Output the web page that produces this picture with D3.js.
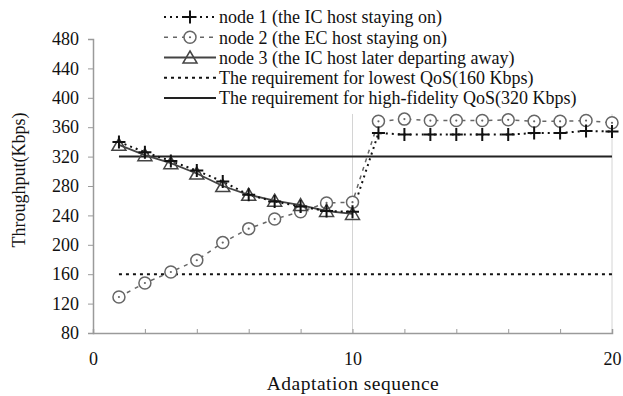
<!DOCTYPE html>
<html>
<head>
<meta charset="utf-8">
<script src="https://cdn.jsdelivr.net/npm/d3@7"></script>
<style>
  html, body { margin: 0; padding: 0; background: #fff; }
  svg { display: block; }
  text { font-family: "Liberation Serif", "Times New Roman", serif; fill: #111; }
</style>
</head>
<body>
<svg id="chart" width="623" height="396"></svg>
<script>
// ---- data ----
const seq = [1,2,3,4,5,6,7,8,9,10,11,12,13,14,15,16,17,18,19,20];
const node1 = [340,326,314,301,286,268,259,252,246,245,352,350,350,350,350,350,352,352,355,354];
const node2 = [129,148,163,179,203,222,235,245,257,258,368,371,369,369,369,370,368,368,369,366];
const node3Seq = [1,2,3,4,5,6,7,8,9,10];
const node3 = [336,322,311,297,280,268,260,254,246,242];
const lowQoS = 160;
const highQoS = 320;
const yTicks = [80,120,160,200,240,280,320,360,400,440,480];
const xLabelTicks = [0,10,20];
const xMinorTicks = [2,4,6,8,10,12,14,16,18,20];
const legendLabels = [
  "node 1 (the IC host staying on)",
  "node 2 (the EC host staying on)",
  "node 3 (the IC host later departing away)",
  "The requirement for lowest QoS(160 Kbps)",
  "The requirement for high-fidelity QoS(320 Kbps)"
];

// ---- layout ----
const svg = d3.select("#chart");
const x = d3.scaleLinear().domain([0,20]).range([93,612]);
const y = d3.scaleLinear().domain([80,480]).range([333,39]);
const axisColor = "#9a9a9a";

// light vertical guide lines at x=10 and x=20
svg.append("g").selectAll("line").data([10,20]).join("line")
  .attr("x1", d=>x(d)).attr("x2", d=>x(d))
  .attr("y1", y(378)).attr("y2", y(80))
  .attr("stroke", "#d4d4d4").attr("stroke-width", 1);

// y axis
const yAxis = svg.append("g").attr("transform", `translate(${x(0)},0)`)
  .call(d3.axisLeft(y).tickValues(yTicks).tickSize(5).tickPadding(9).tickFormat(d3.format("d")));
yAxis.select(".domain").attr("stroke", axisColor).attr("stroke-width", 1.5);
yAxis.selectAll(".tick line").attr("stroke", axisColor);
yAxis.selectAll(".tick text").attr("font-size", 18).attr("font-family", "Liberation Serif").attr("fill", "#111");

// x axis (minor ticks inward)
const xAxis = svg.append("g").attr("transform", `translate(0,${y(80)})`)
  .call(d3.axisBottom(x).tickValues(xMinorTicks).tickSize(-4).tickFormat(""));
xAxis.select(".domain").attr("stroke", axisColor).attr("stroke-width", 1.5);
xAxis.selectAll(".tick line").attr("stroke", axisColor);
const xLab = svg.append("g").attr("transform", `translate(0,${y(80)})`)
  .call(d3.axisBottom(x).tickValues(xLabelTicks).tickSize(0).tickPadding(19).tickFormat(d3.format("d")));
xLab.select(".domain").remove();
xLab.selectAll(".tick text").attr("font-size", 18).attr("font-family", "Liberation Serif").attr("fill", "#111");

// axis titles
svg.append("text").attr("x", 353).attr("y", 390).attr("text-anchor", "middle")
  .attr("font-size", 19.5).attr("letter-spacing", 0.5).text("Adaptation sequence");
svg.append("text").attr("transform", "translate(25,180) rotate(-90)").attr("text-anchor", "middle")
  .attr("font-size", 18).text("Throughput(Kbps)");

// requirement lines
svg.append("line").attr("x1", x(1)).attr("x2", x(20)).attr("y1", y(lowQoS)).attr("y2", y(lowQoS))
  .attr("stroke", "#111").attr("stroke-width", 2).attr("stroke-dasharray", "3,4");
svg.append("line").attr("x1", x(1)).attr("x2", x(20)).attr("y1", y(highQoS)).attr("y2", y(highQoS))
  .attr("stroke", "#222").attr("stroke-width", 2);

const line = d3.line().x(d=>x(d[0])).y(d=>y(d[1]));
const d1 = seq.map((s,i)=>[s,node1[i]]);
const d2 = seq.map((s,i)=>[s,node2[i]]);
const d3d = node3Seq.map((s,i)=>[s,node3[i]]);

// node 2 line
svg.append("path").attr("d", line(d2)).attr("fill","none")
  .attr("stroke","#666").attr("stroke-width",1.5).attr("stroke-dasharray","4,5");
// node 3 line
svg.append("path").attr("d", line(d3d)).attr("fill","none")
  .attr("stroke","#444").attr("stroke-width",1.8);
// node 1 line
svg.append("path").attr("d", line(d1)).attr("fill","none")
  .attr("stroke","#111").attr("stroke-width",2).attr("stroke-dasharray","2,4");

// marker helpers
function circleMarker(g, cx, cy) {
  g.append("circle").attr("cx",cx).attr("cy",cy).attr("r",6)
    .attr("fill","#fff").attr("stroke","#666").attr("stroke-width",1.5);
  g.append("circle").attr("cx",cx).attr("cy",cy).attr("r",1.1)
    .attr("fill","#666");
}
function triMarker(g, cx, cy) {
  const p = `M${cx},${cy-6.5} L${cx+7},${cy+5.5} L${cx-7},${cy+5.5} Z`;
  g.append("path").attr("d",p).attr("fill","none").attr("stroke","#444").attr("stroke-width",1.5);
}
function plusMarker(g, cx, cy) {
  g.append("path").attr("d",`M${cx-6.5},${cy} H${cx+6.5} M${cx},${cy-6.5} V${cy+6.5}`)
    .attr("stroke","#111").attr("stroke-width",2);
}

const m2 = svg.append("g");
d2.forEach(d=>circleMarker(m2, x(d[0]), y(d[1])));
const m3 = svg.append("g");
d3d.forEach(d=>triMarker(m3, x(d[0]), y(d[1])));
const m1 = svg.append("g");
d1.forEach(d=>plusMarker(m1, x(d[0]), y(d[1])));

// legend
const lg = svg.append("g");
const lx0 = 164, lx1 = 216, ltx = 219;
const rowY = [17, 37.25, 57.5, 77.75, 98];
const styles = [
  {stroke:"#111", w:2, dash:"2,4", mk:"plus"},
  {stroke:"#666", w:1.5, dash:"4,5", mk:"circle"},
  {stroke:"#444", w:1.8, dash:null, mk:"tri"},
  {stroke:"#111", w:2, dash:"3,4", mk:null},
  {stroke:"#222", w:2, dash:null, mk:null}
];
legendLabels.forEach((lab,i)=>{
  const yy = rowY[i], s = styles[i];
  const ln = lg.append("line").attr("x1",lx0).attr("x2",lx1).attr("y1",yy).attr("y2",yy)
    .attr("stroke",s.stroke).attr("stroke-width",s.w);
  if (s.dash) ln.attr("stroke-dasharray", s.dash);
  const cx = (lx0+lx1)/2;
  if (s.mk==="plus") plusMarker(lg, cx, yy);
  if (s.mk==="circle") circleMarker(lg, cx, yy);
  if (s.mk==="tri") triMarker(lg, cx, yy);
  lg.append("text").attr("x",ltx).attr("y",yy).attr("dy","0.35em")
    .attr("font-size",18).text(lab);
});
</script>
</body>
</html>
